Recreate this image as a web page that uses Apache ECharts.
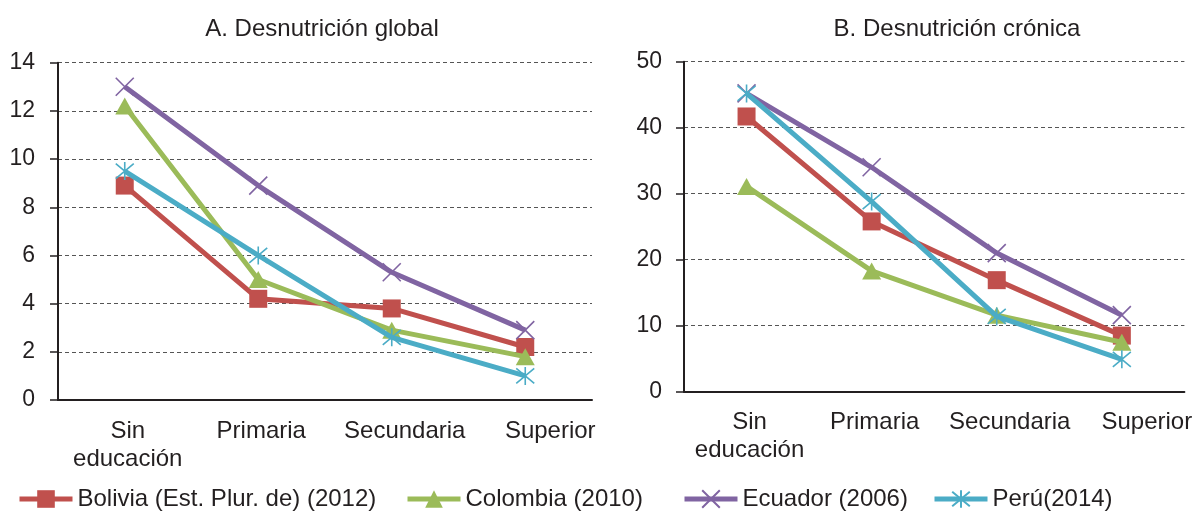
<!DOCTYPE html>
<html>
<head>
<meta charset="utf-8">
<script src="https://cdn.jsdelivr.net/npm/echarts@6/dist/echarts.min.js"></script>
<style>
html,body{margin:0;padding:0;background:#fff;}
#chart{width:1195px;height:511px;}
</style>
</head>
<body>
<div id="chart"></div>
<script>
// ---- data ----
var categories = ['Sin\neducación', 'Primaria', 'Secundaria', 'Superior'];
var seriesNames = ['Bolivia (Est. Plur. de) (2012)', 'Colombia (2010)', 'Ecuador (2006)', 'Perú(2014)'];
var titleA = 'A. Desnutrición global';
var titleB = 'B. Desnutrición crónica';

var globalBolivia  = [8.9, 4.2, 3.8, 2.2];
var globalColombia = [12.2, 5.0, 2.9, 1.8];
var globalEcuador  = [13.0, 8.9, 5.3, 2.9];
var globalPeru     = [9.5, 6.0, 2.6, 1.0];

var cronicaBolivia  = [41.7, 25.8, 16.9, 8.5];
var cronicaColombia = [31.1, 18.3, 11.6, 7.5];
var cronicaEcuador  = [45.2, 34.0, 21.0, 11.6];
var cronicaPeru     = [45.2, 28.8, 11.4, 4.9];

var ticksA = {min: 0, max: 14, interval: 2};
var ticksB = {min: 0, max: 50, interval: 10};

// ---- styles ----
var FONT = '"Liberation Sans", Arial, sans-serif';
var TXT = '#231F20';
var FS = 24;
var FS_TICK = 23;
var colors = ['#C0504D', '#9BBB59', '#8064A2', '#4BACC6'];
var symbols = [
  'rect',
  'triangle',
  'path://M0,0L10,10M10,0L0,10',
  'path://M0,0L10,10M10,0L0,10M5,-1L5,11'
];
var symbolSizes = [18, [19, 17], 18, 18];
var labelShift = [3, 3, 13, 25];

function catLabel(value, idx) {
  return '{c' + idx + '|' + value + '}';
}
var rich = {};
for (var i = 0; i < 4; i++) {
  rich['c' + i] = {fontFamily: FONT, fontSize: FS, color: TXT, lineHeight: 28, padding: [0, 0, 0, 2 * labelShift[i]], align: 'center'};
}

function xAxisDef(gi) {
  return {
    type: 'category', gridIndex: gi, data: categories, boundaryGap: true,
    axisLine: {show: true, lineStyle: {color: TXT, width: 2}},
    axisTick: {show: false},
    axisLabel: {margin: 17, formatter: catLabel, rich: rich, interval: 0, fontFamily: FONT, fontSize: FS, color: TXT, lineHeight: 28}
  };
}
function yAxisDef(gi, t, margin) {
  return {
    type: 'value', gridIndex: gi, min: t.min, max: t.max, interval: t.interval,
    axisLine: {show: true, lineStyle: {color: TXT, width: 2}},
    axisTick: {show: true, length: 8, lineStyle: {color: TXT, width: 1.5}},
    axisLabel: {margin: margin, fontFamily: FONT, fontSize: FS_TICK, color: TXT},
    splitLine: {show: true, lineStyle: {color: '#555', width: 1, type: [4, 3]}}
  };
}

var dataA = [globalBolivia, globalColombia, globalEcuador, globalPeru];
var dataB = [cronicaBolivia, cronicaColombia, cronicaEcuador, cronicaPeru];

function makeSeries(gi, arrs) {
  return arrs.map(function (d, k) {
    var isStroke = k >= 2;
    return {
      type: 'line', name: seriesNames[k], xAxisIndex: gi, yAxisIndex: gi, data: d,
      symbol: symbols[k], symbolSize: symbolSizes[k], showAllSymbol: true,
      lineStyle: {color: colors[k], width: 5},
      itemStyle: isStroke ? {color: colors[k], borderColor: colors[k], borderWidth: 1.6} : {color: colors[k], borderWidth: 0},
      z: 2 + k
    };
  });
}

var legendLefts = [17, 405, 682, 932];
var legends = seriesNames.map(function (n, k) {
  return {
    show: true, left: legendLefts[k], top: 487, orient: 'horizontal', padding: 0,
    data: [n], itemWidth: 53, itemHeight: 22, selectedMode: false,
    lineStyle: {width: 5},
    textStyle: {fontFamily: FONT, fontSize: FS, color: TXT}
  };
});

var chart = echarts.init(document.getElementById('chart'), null, {renderer: 'canvas'});
chart.setOption({
  animation: false,
  backgroundColor: '#fff',
  title: [
    {text: titleA, left: 317, top: 12, textAlign: 'center', textStyle: {fontFamily: FONT, fontSize: FS, fontWeight: 'normal', color: TXT}},
    {text: titleB, left: 952, top: 12, textAlign: 'center', textStyle: {fontFamily: FONT, fontSize: FS, fontWeight: 'normal', color: TXT}}
  ],
  legend: legends,
  grid: [
    {left: 58, top: 62.7, width: 534, height: 337.3},
    {left: 684, top: 61.7, width: 502, height: 330}
  ],
  xAxis: [xAxisDef(0), xAxisDef(1)],
  yAxis: [yAxisDef(0, ticksA, 23), yAxisDef(1, ticksB, 22)],
  series: makeSeries(0, dataA).concat(makeSeries(1, dataB))
});
</script>
</body>
</html>
